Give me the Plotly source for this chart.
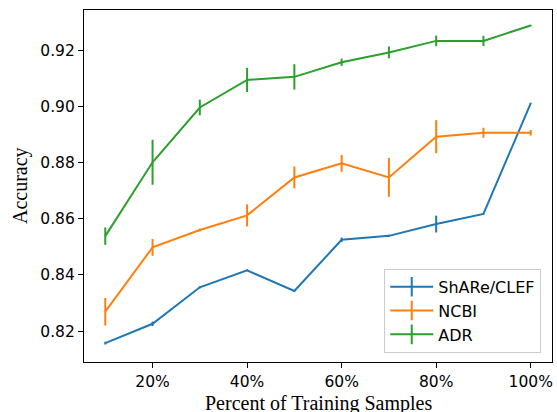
import plotly.graph_objects as go

x_pct = [10, 20, 30, 40, 50, 60, 70, 80, 90, 100]

share_clef = [0.8157, 0.8226, 0.8356, 0.8416, 0.8343, 0.8525, 0.8539, 0.8581, 0.8617, 0.9011]
share_clef_err = [0.0005, 0.0008, 0.0004, 0.0003, 0.0003, 0.0008, 0.0004, 0.0030, 0.0002, 0.0002]

ncbi = [0.8269, 0.8498, 0.8560, 0.8612, 0.8747, 0.8797, 0.8747, 0.8892, 0.8906, 0.8906]
ncbi_err = [0.0049, 0.0030, 0.0005, 0.0039, 0.0039, 0.0030, 0.0069, 0.0059, 0.0018, 0.0010]

adr = [0.8538, 0.8801, 0.8996, 0.9094, 0.9105, 0.9157, 0.9192, 0.9233, 0.9233, 0.9288]
adr_err = [0.0031, 0.0080, 0.0028, 0.0043, 0.0045, 0.0013, 0.0021, 0.0019, 0.0018, 0.0002]

series_names = ["ShARe/CLEF", "NCBI", "ADR"]
colors = ["#1f77b4", "#ff7f0e", "#2ca02c"]

x_tickvals = [20, 40, 60, 80, 100]
x_ticktext = ["20%", "40%", "60%", "80%", "100%"]
y_tickvals = [0.82, 0.84, 0.86, 0.88, 0.90, 0.92]

x_title = "Percent of Training Samples"
y_title = "Accuracy"

fig = go.Figure()
for name, ys, errs, c in zip(series_names, [share_clef, ncbi, adr],
                              [share_clef_err, ncbi_err, adr_err], colors):
    fig.add_trace(go.Scatter(
        x=x_pct, y=ys, name=name, mode="lines", legendgroup=name,
        showlegend=False,
        line=dict(color=c, width=2),
        error_y=dict(type="data", array=errs, visible=True, color=c,
                     thickness=2, width=0),
    ))
    # legend entry: line with a vertical error-bar glyph
    fig.add_trace(go.Scatter(
        x=[None], y=[None], name=name, mode="lines+markers", legendgroup=name,
        showlegend=True,
        line=dict(color=c, width=2),
        marker=dict(symbol="line-ns", size=14, color=c,
                    line=dict(width=2, color=c)),
    ))

axis_common = dict(
    showline=True, linecolor="black", linewidth=1.2, mirror=True,
    ticks="outside", ticklen=5, tickwidth=1.2, tickcolor="black",
    showgrid=False, zeroline=False, automargin=False,
    tickfont=dict(family="DejaVu Sans", size=15.5, color="black"),
)

title_font = dict(family="Liberation Serif", size=20, color="black")

fig.update_layout(
    width=557, height=412,
    margin=dict(l=84, r=5, t=10, b=50, autoexpand=False),
    paper_bgcolor="white", plot_bgcolor="white",
    showlegend=True,
    legend=dict(
        x=0.977, y=0.026, xanchor="right", yanchor="bottom",
        bgcolor="rgba(255,255,255,0.8)", bordercolor="#cccccc", borderwidth=1,
        font=dict(family="DejaVu Sans", size=16, color="black"),
        itemwidth=43, traceorder="grouped", tracegroupgap=0,
    ),
    xaxis=dict(range=[5.5, 104.5], tickvals=x_tickvals, ticktext=x_ticktext,
               **axis_common),
    yaxis=dict(range=[0.809, 0.9343], tickvals=y_tickvals, tickformat=".2f",
               **axis_common),
    annotations=[
        dict(text=x_title, xref="paper", yref="paper", x=0.5, y=0,
             xanchor="center", yanchor="middle", yshift=-41,
             showarrow=False, font=title_font),
        dict(text=y_title, xref="paper", yref="paper", x=0, y=0.5,
             xanchor="center", yanchor="middle", xshift=-64, textangle=-90,
             showarrow=False, font=title_font),
    ],
)

fig.write_html("out.html", config={"displayModeBar": False},
               post_script="document.body.style.margin='0';document.body.style.overflow='hidden';")
